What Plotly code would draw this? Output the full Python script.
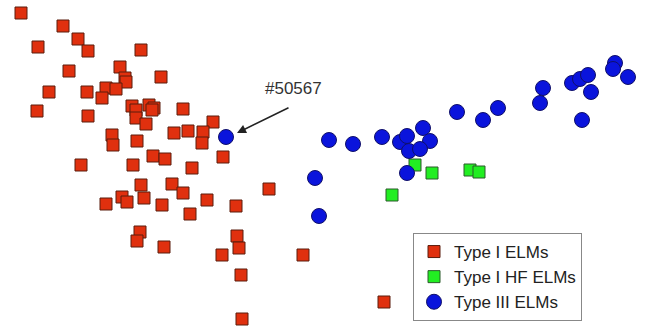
import plotly.graph_objects as go

# Type I ELMs (red squares)
type1_x = [21, 63, 78, 38, 88, 141, 69, 120, 125, 126, 161, 49, 87, 106, 116, 102, 37, 88,
           132, 136, 136, 149, 154, 152, 146, 183, 213, 112, 113, 137, 174, 188, 203, 202,
           223, 153, 165, 81, 133, 192, 141, 172, 183, 122, 127, 144, 106, 162, 207, 236,
           190, 269, 140, 137, 164, 237, 239, 222, 303, 241, 242, 384]
type1_y = [13, 26, 39, 47, 51, 50, 71, 67, 78, 82, 77, 92, 92, 88, 89, 98, 111, 116,
           106, 110, 118, 105, 108, 110, 124, 109, 122, 135, 145, 141, 133, 131, 132, 143,
           157, 156, 159, 165, 165, 168, 185, 184, 193, 197, 202, 198, 204, 205, 200, 206,
           214, 189, 232, 241, 247, 236, 248, 255, 255, 275, 319, 302]

# Type I HF ELMs (green squares)
hf_x = [415, 432, 470, 479, 392]
hf_y = [165, 173, 170, 172, 195]

# Type III ELMs (blue circles)
type3_x = [226, 329, 353, 382, 400, 407, 423, 430, 409, 420, 457, 483, 498, 543, 540,
           572, 580, 588, 591, 582, 615, 613, 628, 315, 407, 319]
type3_y = [137, 140, 144, 137, 142, 136, 128, 141, 151, 149, 112, 120, 108, 88, 103,
           83, 79, 75, 92, 120, 63, 69, 77, 178, 173, 216]

label_text = "#50567"

fig = go.Figure()
fig.add_trace(go.Scatter(
    x=type1_x, y=type1_y, mode="markers", name="Type I ELMs",
    marker=dict(symbol="square", size=12, color="#e0300e",
                line=dict(color="#5a1c0c", width=1))))
fig.add_trace(go.Scatter(
    x=hf_x, y=hf_y, mode="markers", name="Type I HF ELMs",
    marker=dict(symbol="square", size=12, color="#22ee22",
                line=dict(color="#2a5a2a", width=1))))
fig.add_trace(go.Scatter(
    x=type3_x, y=type3_y, mode="markers", name="Type III ELMs",
    marker=dict(symbol="circle", size=15, color="#0a14dc",
                line=dict(color="#10106a", width=1))))

fig.add_annotation(x=293, y=88, text=label_text, showarrow=False,
                   font=dict(family="Liberation Sans, Arial", size=17, color="#333333"))
fig.add_annotation(x=237, y=133, ax=290, ay=107, axref="x", ayref="y",
                   xref="x", yref="y", text="", showarrow=True,
                   arrowhead=2, arrowsize=1.2, arrowwidth=1.5, arrowcolor="#222222")

fig.update_layout(
    width=645, height=328,
    margin=dict(l=0, r=0, t=0, b=0),
    paper_bgcolor="white", plot_bgcolor="white",
    xaxis=dict(range=[0, 645], visible=False, fixedrange=True),
    yaxis=dict(range=[328, 0], visible=False, fixedrange=True),
    showlegend=True,
    legend=dict(x=413 / 645, y=1 - 233 / 328, xanchor="left", yanchor="top",
                bordercolor="#888888", borderwidth=1, bgcolor="white",
                font=dict(family="Liberation Sans, Arial", size=17, color="#222222"),
                tracegroupgap=0, itemwidth=30),
)

fig.write_html("out.html", config={"displayModeBar": False},
               post_script="document.body.style.margin='0';document.body.style.overflow='hidden';")
